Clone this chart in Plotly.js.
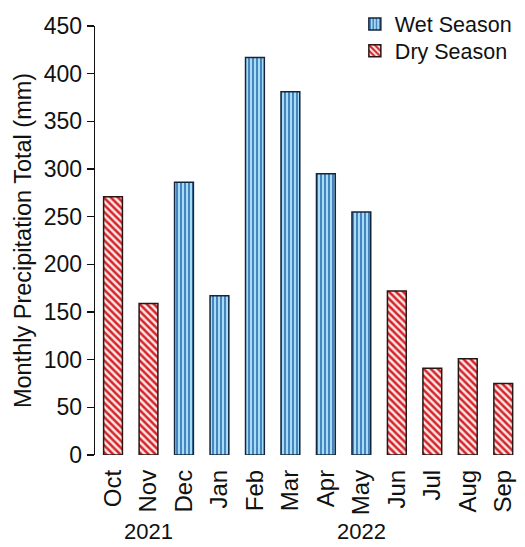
<!DOCTYPE html>
<html>
<head>
<meta charset="utf-8">
<script src="https://cdn.plot.ly/plotly-3.0.1.min.js"></script>
<style>html,body{margin:0;padding:0;background:#fff;}#chart{width:525px;height:547px;}</style>
</head>
<body>
<div id="chart"></div>
<script>
const months = ['Oct','Nov','Dec','Jan','Feb','Mar','Apr','May','Jun','Jul','Aug','Sep'];
const wetMonths = ['Dec','Jan','Feb','Mar','Apr','May'];
const wetValues = [286, 167, 417, 381, 295, 255];
const dryMonths = ['Oct','Nov','Jun','Jul','Aug','Sep'];
const dryValues = [271, 159, 172, 91, 101, 75];
const yearLabels = ['2021', '2022'];
const yearCenters = ['Nov', 'May'];
const yTicks = [0, 50, 100, 150, 200, 250, 300, 350, 400, 450];

const FONT = 'Liberation Sans, Arial, sans-serif';
const XMIN = -0.508, XMAX = 11.5;

const wet = {
  type: 'bar', name: 'Wet Season', x: wetMonths, y: wetValues,
  width: 0.53, legend: 'legend',
  marker: {
    color: '#a3d6f2',
    line: {color: '#14263d', width: 1.5},
    pattern: {shape: '|', fgcolor: '#2c6fb0', bgcolor: '#a8dbf5', size: 4, solidity: 0.4, fillmode: 'replace'}
  }
};
const dry = {
  type: 'bar', name: 'Dry Season', x: dryMonths, y: dryValues,
  width: 0.53, legend: 'legend2',
  marker: {
    color: '#ffffff',
    line: {color: '#2a1515', width: 1.5},
    pattern: {shape: '\\', fgcolor: '#d3252a', bgcolor: '#fbe6e6', size: 5, solidity: 0.5, fillmode: 'replace'}
  }
};

const annotations = yearLabels.map((t, i) => ({
  text: t, x: (months.indexOf(yearCenters[i]) - XMIN) / (XMAX - XMIN), xref: 'paper', y: -0.178, yref: 'paper',
  showarrow: false, xanchor: 'center', yanchor: 'middle',
  font: {family: FONT, size: 22, color: '#111'}
}));

const legendBase = {xanchor: 'left', yanchor: 'middle', bgcolor: 'rgba(0,0,0,0)',
  font: {family: FONT, size: 21.5, color: '#111'}, itemwidth: 30, borderwidth: 0};

const layout = {
  width: 525, height: 547,
  margin: {l: 95, r: 4, t: 23, b: 92},
  paper_bgcolor: '#fff', plot_bgcolor: '#fff',
  barmode: 'overlay',
  showlegend: true,
  legend: Object.assign({}, legendBase, {x: 0.61, y: 1.0046}),
  legend2: Object.assign({}, legendBase, {x: 0.61, y: 0.942}),
  xaxis: {
    type: 'category', categoryorder: 'array', categoryarray: months,
    range: [XMIN, XMAX], showline: false, ticks: '', showgrid: false, zeroline: false,
    tickangle: -90, ticklabelstandoff: 9, tickfont: {family: FONT, size: 24, color: '#111'}, fixedrange: true
  },
  yaxis: {
    range: [0, 450], tickvals: yTicks, showline: true, linecolor: '#111', linewidth: 1.3,
    ticks: 'outside', ticklen: 7, tickwidth: 1.3, tickcolor: '#111',
    showgrid: false, zeroline: false,
    tickfont: {family: FONT, size: 23, color: '#111'},
    title: {text: 'Monthly Precipitation Total (mm)', font: {family: FONT, size: 23.5, color: '#111'}, standoff: 5}
  },
  annotations: annotations
};

Plotly.newPlot('chart', [wet, dry], layout, {displayModeBar: false, staticPlot: true});
</script>
</body>
</html>
